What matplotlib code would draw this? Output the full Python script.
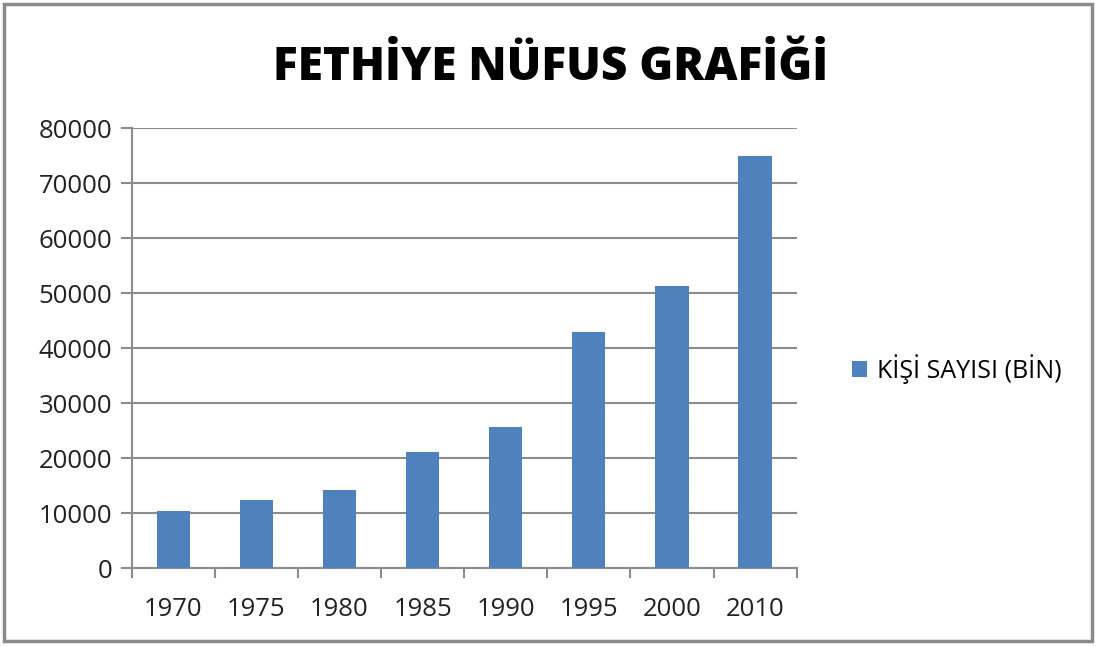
import matplotlib
matplotlib.use("Agg")
import matplotlib.pyplot as plt
from matplotlib.patches import Rectangle

# data
years = ["1970", "1975", "1980", "1985", "1990", "1995", "2000", "2010"]
people = [10500, 12400, 14200, 21100, 25600, 42900, 51400, 74900]
series_name = "KİŞİ SAYISI (BİN)"
title = "FETHİYE NÜFUS GRAFİĞİ"
yticks = [0, 10000, 20000, 30000, 40000, 50000, 60000, 70000, 80000]

plt.rcParams['font.family'] = ['Open Sans', 'DejaVu Sans']

fig = plt.figure(figsize=(10.99, 6.46), dpi=100)
ax = fig.add_axes([0.1198, 0.1203, 0.6051, 0.6811])

x = list(range(len(years)))
ax.bar(x, people, width=0.4, color="#4F81BD", label=series_name, zorder=3)

ax.set_xlim(-0.5, len(years) - 0.5)
ax.set_ylim(0, 80000)
ax.set_yticks(yticks)
ax.set_yticklabels([str(v) for v in yticks])
ax.set_xticks(x)
ax.set_xticklabels(years)
ax.tick_params(axis="both", labelsize=18.5, colors="#222222", length=0)
ax.tick_params(axis="y", pad=14)
ax.tick_params(axis="x", pad=21)

# gridlines
ax.grid(axis="y", color="#8c8c8c", linewidth=1.5, zorder=0)
for s in ["top", "right"]:
    ax.spines[s].set_visible(False)
ax.spines["left"].set_color("#8c8c8c")
ax.spines["left"].set_linewidth(1.5)
ax.spines["bottom"].set_color("#8c8c8c")
ax.spines["bottom"].set_linewidth(1.5)

# small tick marks between categories on the x axis and left of y axis
for i in range(len(years) + 1):
    ax.plot([i - 0.5, i - 0.5], [0, -1600], color="#8c8c8c", lw=1.5, clip_on=False)
for v in yticks:
    ax.plot([-0.5, -0.62], [v, v], color="#8c8c8c", lw=1.5, clip_on=False)

fig.text(0.501, 0.895, title, ha="center", va="center", fontsize=33,
         fontweight="heavy", color="black")

fig.legend(loc="center left", bbox_to_anchor=(0.755, 0.429), frameon=False,
           fontsize=18, handlelength=0.6, handleheight=0.6, handletextpad=0.4)

# outer border
fig.patches.append(Rectangle((0.004, 0.007), 0.99, 0.987, transform=fig.transFigure,
                             fill=False, edgecolor="#8a8a8a", linewidth=2.5))

fig.savefig("out.png", dpi=100)
